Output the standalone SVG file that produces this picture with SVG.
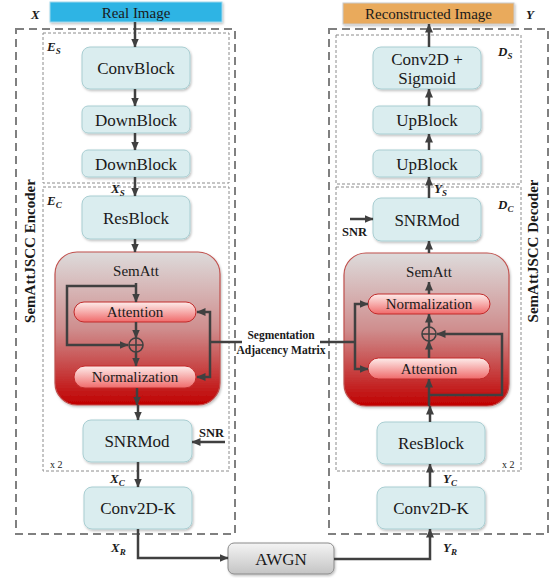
<svg xmlns="http://www.w3.org/2000/svg" width="552" height="578" viewBox="0 0 552 578" font-family="'Liberation Serif', 'DejaVu Serif', serif">
  <defs>
    <linearGradient id="semGrad" x1="0" y1="0" x2="0" y2="1">
      <stop offset="0" stop-color="#DDDBDB"/>
      <stop offset="0.5" stop-color="#CF8E8E"/>
      <stop offset="1" stop-color="#C00000"/>
    </linearGradient>
    <linearGradient id="pillGrad" x1="0" y1="0" x2="0" y2="1">
      <stop offset="0" stop-color="#FDEDEB"/>
      <stop offset="1" stop-color="#F06A6A"/>
    </linearGradient>
    <linearGradient id="noiseGrad" x1="0" y1="0" x2="0" y2="1">
      <stop offset="0" stop-color="#F4F4F4"/>
      <stop offset="1" stop-color="#C4C4C4"/>
    </linearGradient>
    <filter id="shadow" x="-10%" y="-10%" width="125%" height="130%">
      <feDropShadow dx="1" dy="1.5" stdDeviation="1" flood-color="#000" flood-opacity="0.25"/>
    </filter>
    <marker id="arr" markerUnits="userSpaceOnUse" markerWidth="9" markerHeight="8" refX="8.5" refY="4" orient="auto">
      <path d="M0,0 L9,4 L0,8 z" fill="#404040"/>
    </marker>
  </defs>
  <style>
    .outer { fill: none; stroke: #808080; stroke-width: 2; stroke-dasharray: 8 5; }
    .inner { fill: none; stroke: #8c8c8c; stroke-width: 1; stroke-dasharray: 3 2; }
    .node { fill: #DAEDEF; stroke: #A9CED2; stroke-width: 1; filter: url(#shadow); }
    .sem { fill: url(#semGrad); stroke: #C0504D; stroke-width: 1.2; filter: url(#shadow); }
    .pill { fill: url(#pillGrad); stroke: #C22A2A; stroke-width: 1; }
    .noise { fill: url(#noiseGrad); stroke: #8a8a8a; stroke-width: 1; filter: url(#shadow); }
    .wire { fill: none; stroke: #404040; stroke-width: 2.5; }
    .arrow { fill: none; stroke: #404040; stroke-width: 2.5; marker-end: url(#arr); }
    .plus { fill: none; stroke: #404040; stroke-width: 1.6; }
    text { font-family: "Liberation Serif", "DejaVu Serif", serif; fill: #1a1a1a; }
    .lbl { font-size: 17px; text-anchor: middle; }
    .sm { font-size: 15px; text-anchor: middle; }
    .sym { font-weight: bold; font-style: italic; font-size: 13px; }
    .sub { font-size: 9px; }
    .bold { font-weight: bold; }
    .rep { font-size: 10px; }
  </style>

  <!-- encoder / decoder frames -->
  <rect class="outer" x="16" y="29" width="219" height="505"/>
  <rect class="outer" x="329" y="29" width="219" height="505"/>
  <rect class="inner" x="43" y="33" width="186" height="150"/>
  <rect class="inner" x="43" y="187" width="186" height="284"/>
  <rect class="inner" x="336" y="35" width="185" height="149"/>
  <rect class="inner" x="336" y="187" width="185" height="284"/>

  <text class="bold" font-size="15" text-anchor="middle" transform="translate(35,251) rotate(-90)">SemAttJSCC Encoder</text>
  <text class="bold" font-size="15" text-anchor="middle" transform="translate(538,251) rotate(-90)">SemAttJSCC Decoder</text>

  <!-- source and sink -->
  <g id="real-image">
    <rect x="50" y="2" width="172" height="20" fill="#2DB4E4" stroke="#9fd7ec" stroke-width="1" filter="url(#shadow)"/>
    <text class="sm" x="136" y="17.5">Real Image</text>
  </g>
  <g id="reconstructed-image">
    <rect x="343" y="3" width="171" height="21" fill="#E9AA5C" stroke="#c9c9c9" stroke-width="1" filter="url(#shadow)"/>
    <text class="sm" x="428.5" y="19">Reconstructed Image</text>
  </g>

  <!-- encoder E_S -->
  <g id="enc-convblock">
    <rect class="node" x="82" y="47" width="108" height="42" rx="8"/>
    <text class="lbl" x="136" y="74">ConvBlock</text>
  </g>
  <g id="enc-downblock-1">
    <rect class="node" x="82" y="106" width="108" height="27" rx="6"/>
    <text class="lbl" x="136" y="125.5">DownBlock</text>
  </g>
  <g id="enc-downblock-2">
    <rect class="node" x="82" y="150" width="108" height="27" rx="6"/>
    <text class="lbl" x="136" y="169.5">DownBlock</text>
  </g>

  <!-- encoder E_C -->
  <g id="enc-resblock">
    <rect class="node" x="82" y="196" width="108" height="43" rx="8"/>
    <text class="lbl" x="136" y="223.5">ResBlock</text>
  </g>
  <g id="enc-sematt">
    <rect class="sem" x="55" y="252" width="165" height="153" rx="22"/>
    <text class="sm" x="136" y="276">SemAtt</text>
    <rect class="pill" x="74" y="302" width="122" height="20" rx="10"/>
    <text class="sm" x="135" y="317">Attention</text>
    <circle class="plus" cx="136" cy="345" r="7"/>
    <line class="plus" x1="129" y1="345" x2="143" y2="345"/>
    <line class="plus" x1="136" y1="338" x2="136" y2="352"/>
    <rect class="pill" x="74" y="366" width="122" height="22" rx="11"/>
    <text class="sm" x="135" y="382">Normalization</text>
  </g>
  <g id="enc-snrmod">
    <rect class="node" x="83" y="420" width="109" height="42" rx="8"/>
    <text class="lbl" x="137" y="447">SNRMod</text>
  </g>
  <g id="enc-conv2d-k">
    <rect class="node" x="84" y="487" width="108" height="42" rx="8"/>
    <text class="lbl" x="138" y="514">Conv2D-K</text>
  </g>

  <!-- channel -->
  <g id="awgn">
    <rect class="noise" x="228" y="543" width="106" height="31" rx="6"/>
    <text class="lbl" x="281" y="565">AWGN</text>
  </g>

  <!-- decoder D_C -->
  <g id="dec-conv2d-k">
    <rect class="node" x="377" y="487" width="108" height="42" rx="8"/>
    <text class="lbl" x="431" y="514">Conv2D-K</text>
  </g>
  <g id="dec-resblock">
    <rect class="node" x="377" y="422" width="108" height="42" rx="8"/>
    <text class="lbl" x="431" y="449">ResBlock</text>
  </g>
  <g id="dec-sematt">
    <rect class="sem" x="344" y="253" width="165" height="153" rx="22"/>
    <text class="sm" x="429" y="277">SemAtt</text>
    <rect class="pill" x="368" y="294" width="122" height="20" rx="10"/>
    <text class="sm" x="429" y="309">Normalization</text>
    <circle class="plus" cx="429" cy="334" r="7"/>
    <line class="plus" x1="422" y1="334" x2="436" y2="334"/>
    <line class="plus" x1="429" y1="327" x2="429" y2="341"/>
    <rect class="pill" x="368" y="358" width="122" height="21" rx="10.5"/>
    <text class="sm" x="429" y="374">Attention</text>
  </g>
  <g id="dec-snrmod">
    <rect class="node" x="373" y="198" width="108" height="43" rx="8"/>
    <text class="lbl" x="427" y="225.5">SNRMod</text>
  </g>

  <!-- decoder D_S -->
  <g id="dec-upblock-2">
    <rect class="node" x="373" y="150" width="108" height="27" rx="6"/>
    <text class="lbl" x="427" y="169.5">UpBlock</text>
  </g>
  <g id="dec-upblock-1">
    <rect class="node" x="373" y="106" width="108" height="28" rx="6"/>
    <text class="lbl" x="427" y="126">UpBlock</text>
  </g>
  <g id="dec-conv2d-sigmoid">
    <rect class="node" x="373" y="47" width="108" height="42" rx="8"/>
    <text class="lbl" x="427" y="65">Conv2D +</text>
    <text class="lbl" x="427" y="84">Sigmoid</text>
  </g>

  <!-- connectors, drawn over the blocks -->
  <g id="connectors">
    <line class="arrow" x1="135" y1="22" x2="135" y2="47"/>
    <line class="arrow" x1="135" y1="89" x2="135" y2="106"/>
    <line class="arrow" x1="135" y1="133" x2="135" y2="150"/>
    <line class="arrow" x1="135" y1="177" x2="135" y2="196"/>
    <line class="arrow" x1="135" y1="239" x2="135" y2="252"/>
    <line class="arrow" x1="136" y1="283" x2="136" y2="302"/>
    <polyline class="arrow" points="136,286 67,286 67,345 128,345"/>
    <line class="arrow" x1="136" y1="322" x2="136" y2="338"/>
    <line class="arrow" x1="136" y1="352" x2="136" y2="366"/>
    <line class="arrow" x1="137" y1="388" x2="137" y2="405"/>
    <line class="arrow" x1="138" y1="405" x2="138" y2="420"/>
    <line class="arrow" x1="225" y1="442" x2="192" y2="442"/>
    <line class="arrow" x1="138" y1="462" x2="138" y2="487"/>
    <polyline class="arrow" points="138,529 138,558 228,558"/>

    <polyline class="wire" points="242,342 210,342"/>
    <polyline class="arrow" points="210,342 210,312 197,312"/>
    <polyline class="arrow" points="210,342 210,377 197,377"/>
    <polyline class="wire" points="320,342 355,342"/>
    <polyline class="arrow" points="355,342 355,304 368,304"/>
    <polyline class="arrow" points="355,342 355,369 368,369"/>

    <polyline class="arrow" points="334,559 430,559 430,529"/>
    <line class="arrow" x1="430" y1="487" x2="430" y2="464"/>
    <line class="arrow" x1="430" y1="422" x2="430" y2="406"/>
    <line class="arrow" x1="429" y1="406" x2="429" y2="379"/>
    <polyline class="arrow" points="429,395 502,395 502,334 437,334"/>
    <line class="arrow" x1="429" y1="358" x2="429" y2="341"/>
    <line class="arrow" x1="429" y1="327" x2="429" y2="314"/>
    <line class="arrow" x1="429" y1="294" x2="429" y2="282"/>
    <line class="arrow" x1="429" y1="253" x2="429" y2="241"/>
    <line class="arrow" x1="350" y1="219" x2="373" y2="219"/>
    <line class="arrow" x1="429" y1="198" x2="429" y2="177"/>
    <line class="arrow" x1="429" y1="150" x2="429" y2="134"/>
    <line class="arrow" x1="429" y1="106" x2="429" y2="89"/>
    <line class="arrow" x1="429" y1="47" x2="429" y2="24"/>
  </g>

  <!-- signal labels -->
  <g id="labels">
    <text class="sym" font-size="16" x="31" y="19">X</text>
    <text class="sym" font-size="16" x="526" y="19">Y</text>
    <text class="sym" x="47" y="51">E<tspan class="sub" dy="3">S</tspan></text>
    <text class="sym" x="47" y="205">E<tspan class="sub" dy="3">C</tspan></text>
    <text class="sym" x="498" y="56">D<tspan class="sub" dy="3">S</tspan></text>
    <text class="sym" x="498" y="209">D<tspan class="sub" dy="3">C</tspan></text>
    <text class="sym" font-size="12" x="111" y="193">X<tspan class="sub" dy="3">S</tspan></text>
    <text class="sym" font-size="12" x="434" y="193">Y<tspan class="sub" dy="3">S</tspan></text>
    <text class="sym" font-size="12" x="110" y="483">X<tspan class="sub" dy="3">C</tspan></text>
    <text class="sym" font-size="12" x="443" y="483">Y<tspan class="sub" dy="3">C</tspan></text>
    <text class="sym" font-size="12" x="111" y="552">X<tspan class="sub" dy="3">R</tspan></text>
    <text class="sym" font-size="12" x="443" y="552">Y<tspan class="sub" dy="3">R</tspan></text>
    <text class="bold" font-size="12.5" x="199" y="437">SNR</text>
    <text class="bold" font-size="12.5" x="342" y="236">SNR</text>
    <text class="rep" x="50" y="468">x 2</text>
    <text class="rep" x="502" y="468">x 2</text>
    <text class="bold" font-size="11.5" x="281" y="339" text-anchor="middle">Segmentation</text>
    <text class="bold" font-size="11.5" x="281" y="354" text-anchor="middle">Adjacency Matrix</text>
  </g>
</svg>
